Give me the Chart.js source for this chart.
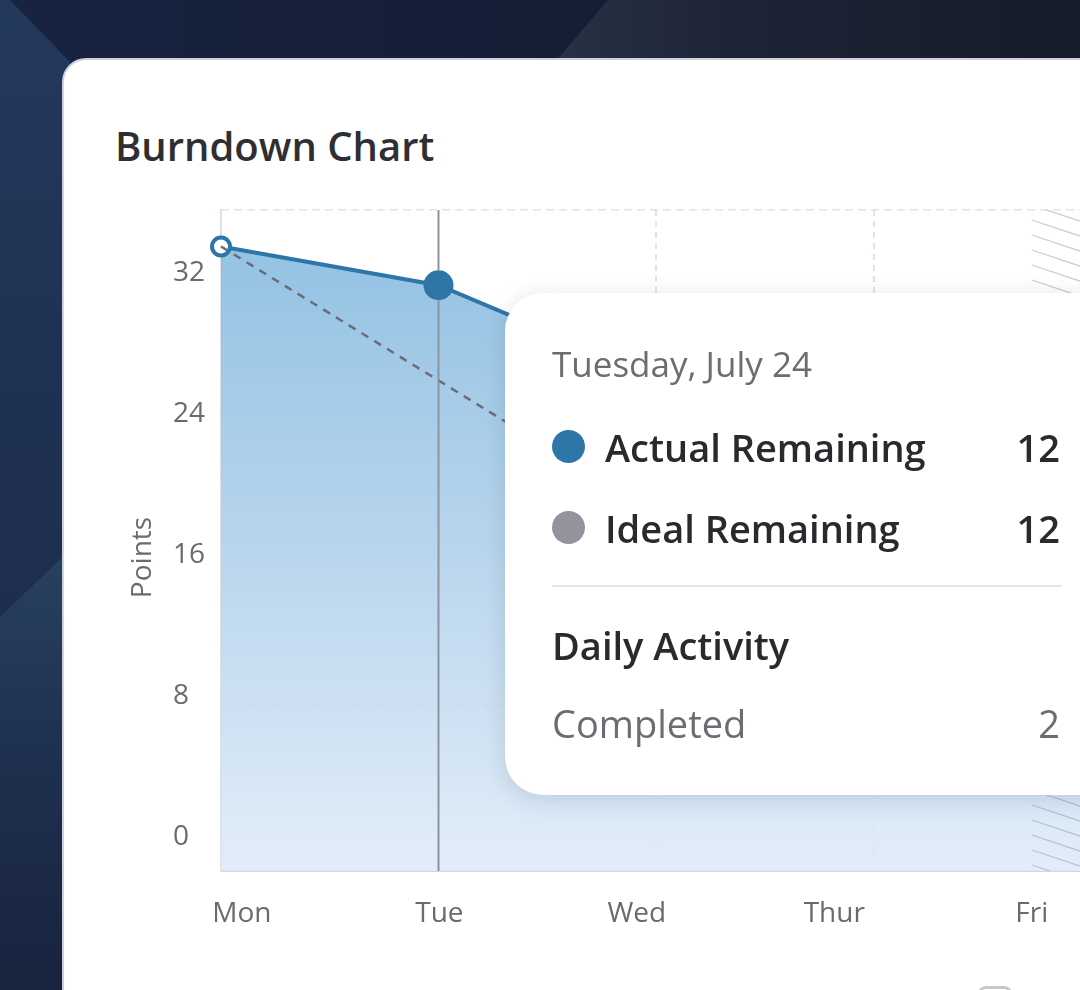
<!DOCTYPE html>
<html>
<head>
<meta charset="utf-8">
<script src="https://cdn.jsdelivr.net/npm/chart.js@4.4.1/dist/chart.umd.min.js"></script>
<style>
  body {
    margin: 0;
    width: 1080px;
    height: 990px;
    overflow: hidden;
    position: relative;
    font-family: "Open Sans", "Noto Sans", sans-serif;
    background: linear-gradient(90deg, #172341 0%, #151e36 45%, #151b2b 100%);
  }
  .bg-shape { position: absolute; }
  .bg-left-top {
    left: 0; top: 0; width: 70px; height: 990px;
    clip-path: polygon(10px 0, 70px 62px, 70px 553px, 0 617px, 0 0);
    background: linear-gradient(180deg, #23395c 0%, #1f3152 40%, #1b2946 100%);
  }
  .bg-left-bottom {
    left: 0; top: 0; width: 70px; height: 990px;
    clip-path: polygon(0 617px, 70px 550px, 70px 990px, 0 990px);
    background: linear-gradient(180deg, #28425f 55%, #1f3150 75%, #18233e 100%);
  }
  .bg-top {
    left: 0; top: 0; width: 1080px; height: 62px;
    clip-path: polygon(555px 62px, 608px 0, 1080px 0, 1080px 62px);
    background: linear-gradient(90deg, #283044 52%, #1d2436 68%, #161b29 100%);
  }
  .card {
    position: absolute;
    left: 64px; top: 60px;
    width: 1100px; height: 1000px;
    background: #fff;
    border-radius: 22px;
    box-shadow: 0 0 0 2px rgba(226, 226, 240, 0.9);
  }
  .card-title {
    position: absolute;
    left: 115px; top: 126px;
    margin: 0;
    font-size: 40px;
    line-height: 40px;
    font-weight: 600;
    color: #2f2f33;
    white-space: nowrap;
  }
  #burndown {
    position: absolute;
    left: 0; top: 0;
  }
  .tip {
    position: absolute;
    left: 505px; top: 293px;
    width: 640px; height: 502px;
    background: #fff;
    border-radius: 38px;
    box-shadow: 0 4px 22px rgba(40, 60, 90, 0.16);
  }
  .tip div { position: absolute; white-space: nowrap; line-height: 1; }
  .tip .date { left: 47px; top: 53px; font-size: 35px; color: #6c6c72; }
  .tip .row { left: 100px; font-size: 38px; font-weight: 600; color: #2a2a2e; }
  .tip .dot { left: 47px; width: 33px; height: 33px; border-radius: 50%; }
  .tip .val { left: 0; width: 555px; text-align: right; font-size: 38px; }
  .tip .sep { left: 47px; top: 292px; width: 510px; height: 2px; background: #e6e6ea; }
  .tip .head { left: 47px; top: 333px; font-size: 38px; font-weight: 600; color: #2a2a2e; }
  .tip .muted { color: #6c6c72; font-weight: 400; }
  .corner-icon {
    position: absolute;
    left: 977px; top: 986px;
    width: 30px; height: 30px;
    border: 3px solid #c8c8cc;
    border-radius: 9px;
  }
</style>
</head>
<body>
<div class="bg-shape bg-left-top"></div>
<div class="bg-shape bg-left-bottom"></div>
<div class="bg-shape bg-top"></div>
<div class="card"></div>
<h2 class="card-title">Burndown Chart</h2>
<canvas id="burndown" width="1200" height="990"></canvas>
<div class="tip" id="tip"></div>
<div class="corner-icon"></div>

<script>
// --- Data ---
const days = ['Mon', 'Tue', 'Wed', 'Thur', 'Fri'];
const actualRemaining = [33.5, 31.3, 26.1, 21.5, 17.0];
const idealRemaining = [33.5, 25.9, 18.3, 10.7, 3.1];
const yTickStep = 8;
const yRange = [-1.93, 35.57];
const dayLabelRange = [-0.106, 4.30];
const gridRows = 4;
const hoverIndex = 1;
const hatchFromDay = 4;

// tooltip contents
const tooltipTitle = 'Tuesday, July 24';
const tooltipSeries = ['Actual Remaining', 'Ideal Remaining'];
const tooltipColors = ['#2e75a8', '#95929b'];
const tooltipValues = [12, 12];
const activityTitle = 'Daily Activity';
const activityLabels = ['Completed'];
const activityValues = [2];

const FONT = '"Open Sans", "Noto Sans", sans-serif';
const lineBlue = '#2e75a8';
const gridTint = 'rgba(135,148,175,0.26)';

// --- Extra drawing: hatch, hover line, axis title ---
const burndownExtras = {
  id: 'burndownExtras',
  afterDatasetsDraw(chart) {
    const { ctx, chartArea: a, scales } = chart;

    // hatched region at the end of the sprint
    const hx = scales.xl.getPixelForValue(hatchFromDay);
    ctx.save();
    ctx.beginPath();
    ctx.rect(hx, a.top, a.right - hx, a.bottom - a.top);
    ctx.clip();
    ctx.strokeStyle = 'rgba(140,140,158,0.45)';
    ctx.lineWidth = 1.2;
    for (let y = a.top - 80; y < a.bottom + 20; y += 15) {
      ctx.beginPath();
      ctx.moveTo(hx, y);
      ctx.lineTo(hx + 240, y + 80);
      ctx.stroke();
    }
    ctx.restore();

    // hover line, broken around the active point
    const pt = chart.getDatasetMeta(0).data[hoverIndex];
    const r = pt.options.radius;
    ctx.save();
    ctx.strokeStyle = '#8e949c';
    ctx.lineWidth = 2;
    ctx.beginPath();
    ctx.moveTo(pt.x, a.top);
    ctx.lineTo(pt.x, pt.y - r);
    ctx.moveTo(pt.x, pt.y + r);
    ctx.lineTo(pt.x, a.bottom);
    ctx.stroke();
    ctx.restore();
  },
  afterDraw(chart) {
    const { ctx, chartArea: a } = chart;
    ctx.save();
    ctx.translate(143, (a.top + a.bottom) / 2 + 17);
    ctx.rotate(-Math.PI / 2);
    ctx.font = '28px ' + FONT;
    ctx.fillStyle = '#6a6a70';
    ctx.textAlign = 'center';
    ctx.textBaseline = 'middle';
    ctx.fillText('Points', 0, 0);
    ctx.restore();
  }
};

function areaGradient(context) {
  const { chart } = context;
  const a = chart.chartArea;
  if (!a) return 'rgba(150,195,228,0.85)';
  const g = chart.ctx.createLinearGradient(0, a.top, 0, a.bottom);
  g.addColorStop(0, 'rgba(124,182,222,0.86)');
  g.addColorStop(0.5, 'rgba(172,206,234,0.86)');
  g.addColorStop(1, 'rgba(222,234,248,0.86)');
  return g;
}

const ctx = document.getElementById('burndown').getContext('2d');
new Chart(ctx, {
  type: 'line',
  data: {
    labels: days,
    datasets: [
      {
        label: 'Actual Remaining',
        data: actualRemaining,
        xAxisID: 'x',
        yAxisID: 'y',
        borderColor: lineBlue,
        borderWidth: 4,
        backgroundColor: areaGradient,
        fill: 'start',
        tension: 0,
        clip: false,
        pointRadius: [9, 15, 0, 0, 0],
        pointBorderWidth: [4, 0, 0, 0, 0],
        pointBorderColor: lineBlue,
        pointBackgroundColor: ['#ffffff', lineBlue, lineBlue, lineBlue, lineBlue],
        order: 2
      },
      {
        label: 'Ideal Remaining',
        data: idealRemaining,
        xAxisID: 'x',
        yAxisID: 'y',
        borderColor: '#6e6b78',
        borderWidth: 2.5,
        borderDash: [8, 7],
        fill: false,
        pointRadius: 0,
        tension: 0,
        order: 1
      }
    ]
  },
  options: {
    responsive: false,
    animation: false,
    events: [],
    layout: { padding: { left: 173, top: 210, right: 109, bottom: 0 } },
    plugins: {
      legend: { display: false },
      tooltip: { enabled: false }
    },
    scales: {
      x: {
        type: 'category',
        labels: days,
        offset: false,
        weight: 0,
        z: 1,
        ticks: { display: false },
        grid: {
          color: c => (c.index === 0 || c.index === hoverIndex) ? 'rgba(0,0,0,0)' : gridTint,
          lineWidth: 2,
          drawTicks: false
        },
        border: { color: '#d3d9e3', width: 2, dash: [6, 5] },
        afterFit: s => { s.height = 0; }
      },
      xl: {
        type: 'linear',
        axis: 'x',
        position: 'bottom',
        weight: 1,
        min: dayLabelRange[0],
        max: dayLabelRange[1],
        ticks: {
          stepSize: 1,
          includeBounds: false,
          autoSkip: false,
          maxRotation: 0,
          padding: 26,
          color: '#6a6a70',
          font: { family: FONT, size: 28 },
          callback: v => days[Math.round(v)] ?? ''
        },
        grid: { display: false, drawTicks: false },
        border: { display: false },
        afterFit: s => { s.height = 119; }
      },
      y: {
        type: 'linear',
        position: 'left',
        weight: 1,
        min: yRange[0],
        max: yRange[1],
        ticks: {
          stepSize: yTickStep,
          includeBounds: false,
          crossAlign: 'far',
          padding: 17,
          color: '#6a6a70',
          font: { family: FONT, size: 28 }
        },
        grid: { display: false, drawTicks: false },
        border: { color: '#e0e0e9', width: 2 },
        afterFit: s => { s.width = 48; }
      },
      yGrid: {
        type: 'linear',
        position: 'left',
        weight: 0,
        z: 1,
        min: 0,
        max: gridRows,
        ticks: { display: false, stepSize: 1 },
        grid: {
          color: c => c.index === 0 ? 'rgba(0,0,0,0)' : gridTint,
          lineWidth: 1.5,
          drawTicks: false
        },
        border: { display: false, dash: [8, 5] },
        afterFit: s => { s.width = 0; }
      }
    }
  },
  plugins: [burndownExtras]
});

// --- Tooltip card (static hover state) ---
const tip = document.getElementById('tip');
const rowTops = [135, 216];
let html = `<div class="date">${tooltipTitle}</div>`;
tooltipSeries.forEach((name, i) => {
  html += `<div class="dot" style="top:${rowTops[i] + 2}px;background:${tooltipColors[i]}"></div>`;
  html += `<div class="row" style="top:${rowTops[i]}px">${name}</div>`;
  html += `<div class="val" style="top:${rowTops[i]}px;font-weight:600;color:#2a2a2e">${tooltipValues[i]}</div>`;
});
html += `<div class="sep"></div>`;
html += `<div class="head">${activityTitle}</div>`;
activityLabels.forEach((name, i) => {
  const top = 411 + i * 78;
  html += `<div class="row muted" style="top:${top}px;left:47px">${name}</div>`;
  html += `<div class="val muted" style="top:${top}px">${activityValues[i]}</div>`;
});
tip.innerHTML = html;
</script>
</body>
</html>
